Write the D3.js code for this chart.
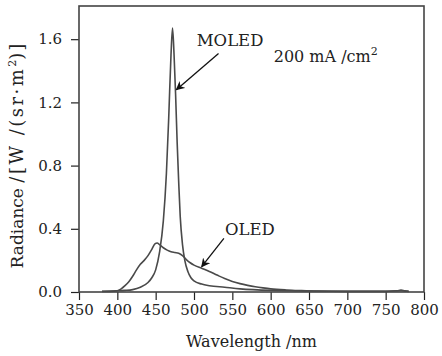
<!DOCTYPE html>
<html>
<head>
<meta charset="utf-8">
<script src="https://cdn.jsdelivr.net/npm/d3@7"></script>
<style>
  body { margin: 0; background: #fff; }
  text { font-family: "DejaVu Serif", "Liberation Serif", serif; fill: #222; }
</style>
</head>
<body>
<div id="chart"></div>
<script>
// spectra (wavelength nm, radiance W/(sr·m²))
const moledWl = [380, 400, 410, 420, 430, 440, 445, 450, 455, 460, 464, 467, 470, 472, 474, 476, 478, 480, 482, 485, 488, 492, 496, 500, 510, 520, 540, 560, 600, 650, 700, 750, 765, 770, 775, 780];
const moledVal = [0.005, 0.008, 0.01, 0.015, 0.03, 0.06, 0.09, 0.14, 0.25, 0.45, 0.75, 1.1, 1.5, 1.67, 1.5, 1.25, 0.95, 0.7, 0.48, 0.3, 0.2, 0.13, 0.09, 0.07, 0.05, 0.04, 0.03, 0.02, 0.01, 0.006, 0.005, 0.005, 0.008, 0.012, 0.007, 0.005];

const oledWl = [380, 390, 400, 405, 410, 415, 420, 425, 430, 435, 440, 445, 449, 452, 455, 460, 465, 470, 475, 480, 485, 490, 495, 500, 510, 520, 530, 540, 550, 560, 570, 580, 590, 600, 620, 640, 660, 700, 750, 770, 780];
const oledVal = [0.003, 0.003, 0.008, 0.02, 0.04, 0.065, 0.1, 0.14, 0.175, 0.2, 0.23, 0.27, 0.305, 0.31, 0.3, 0.28, 0.265, 0.255, 0.25, 0.245, 0.23, 0.205, 0.185, 0.17, 0.15, 0.13, 0.107, 0.085, 0.067, 0.053, 0.042, 0.033, 0.026, 0.02, 0.013, 0.009, 0.006, 0.004, 0.004, 0.008, 0.004];

const xTicks = [350, 400, 450, 500, 550, 600, 650, 700, 750, 800];
const yTicks = [0, 0.4, 0.8, 1.2, 1.6];

const margin = { top: 6, right: 18, bottom: 64, left: 79 };
const width = 442 - margin.left - margin.right;
const height = 356 - margin.top - margin.bottom;

const svg = d3.select("#chart")
  .append("svg")
  .attr("width", 442)
  .attr("height", 356)
  .append("g")
  .attr("transform", "translate(" + margin.left + "," + margin.top + ")");

const x = d3.scaleLinear().domain([350, 800]).range([0, width]);
const y = d3.scaleLinear().domain([0, 1.81]).range([height, 0]);

// axes
const xAxis = d3.axisBottom(x).tickValues(xTicks).tickSize(8).tickPadding(4).tickFormat(d3.format("d"));
const yAxis = d3.axisLeft(y).tickValues(yTicks).tickSize(8).tickPadding(9).tickFormat(d3.format(".1f"));

svg.append("g")
  .attr("class", "x-axis")
  .attr("transform", "translate(0," + height + ")")
  .call(xAxis);

svg.append("g")
  .attr("class", "y-axis")
  .call(yAxis);

svg.selectAll(".domain").remove();
svg.selectAll(".tick line").attr("stroke", "#222").attr("stroke-width", 1.2);
svg.selectAll(".tick text")
  .style("font-size", "15px")
  .style("font-family", "DejaVu Serif, serif")
  .attr("fill", "#222");

// frame
svg.append("rect")
  .attr("width", width)
  .attr("height", height)
  .attr("fill", "none")
  .attr("stroke", "#444")
  .attr("stroke-width", 1.6);

// curves
const line = d3.line()
  .x(d => x(d[0]))
  .y(d => y(d[1]))
  .curve(d3.curveMonotoneX);

svg.append("path")
  .datum(d3.zip(oledWl, oledVal))
  .attr("fill", "none")
  .attr("stroke", "#4a4a4a")
  .attr("stroke-width", 1.6)
  .attr("d", line);

svg.append("path")
  .datum(d3.zip(moledWl, moledVal))
  .attr("fill", "none")
  .attr("stroke", "#4a4a4a")
  .attr("stroke-width", 1.6)
  .attr("d", line);

// arrows
const defs = svg.append("defs");
defs.append("marker")
  .attr("id", "head")
  .attr("viewBox", "0 0 10 10")
  .attr("refX", 9)
  .attr("refY", 5)
  .attr("markerWidth", 9)
  .attr("markerHeight", 9)
  .attr("markerUnits", "userSpaceOnUse")
  .attr("orient", "auto")
  .append("path")
  .attr("d", "M0,0 L10,5 L0,10 L3,5 Z")
  .attr("fill", "#111");

svg.append("line")
  .attr("x1", x(532)).attr("y1", y(1.51))
  .attr("x2", x(477)).attr("y2", y(1.28))
  .attr("stroke", "#111").attr("stroke-width", 1.3)
  .attr("marker-end", "url(#head)");

svg.append("line")
  .attr("x1", x(539)).attr("y1", y(0.34))
  .attr("x2", x(510)).attr("y2", y(0.16))
  .attr("stroke", "#111").attr("stroke-width", 1.3)
  .attr("marker-end", "url(#head)");

// labels
svg.append("text")
  .attr("x", x(547)).attr("y", y(1.56))
  .attr("text-anchor", "middle")
  .style("font-size", "16.5px")
  .text("MOLED");

svg.append("text")
  .attr("x", x(573)).attr("y", y(0.36))
  .attr("text-anchor", "middle")
  .style("font-size", "16.5px")
  .text("OLED");

const cur = svg.append("text")
  .attr("x", x(604)).attr("y", y(1.455))
  .style("font-size", "16px");
cur.append("tspan").text("200 mA /cm");
cur.append("tspan").attr("dy", -7).style("font-size", "11px").text("2");

// axis titles
svg.append("text")
  .attr("x", width / 2)
  .attr("y", height + 55)
  .attr("text-anchor", "middle")
  .style("font-size", "16px")
  .text("Wavelength /nm");

const yt = svg.append("text")
  .attr("transform", "translate(-56," + (height / 2 + 6) + ") rotate(-90)")
  .attr("text-anchor", "middle")
  .style("font-size", "17px");
yt.append("tspan").text("Radiance ");
yt.append("tspan").style("letter-spacing", "2.5px").style("font-size", "18px").text("/[W /(sr·m");
yt.append("tspan").attr("dy", -7).style("font-size", "11px").text("2");
yt.append("tspan").attr("dy", 7).style("font-size", "18px").style("letter-spacing", "2px").text(")]");
</script>
</body>
</html>
